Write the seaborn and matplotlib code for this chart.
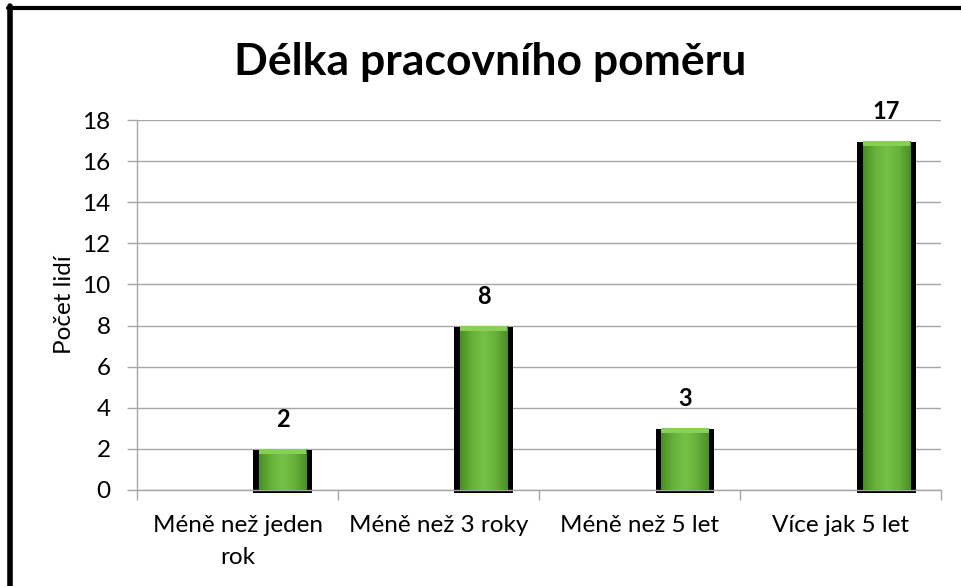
import matplotlib
matplotlib.use("Agg")
import matplotlib.pyplot as plt
import matplotlib.patches as mpatches
from matplotlib.colors import LinearSegmentedColormap
import seaborn as sns
import numpy as np

# data
categories = ["Méně než jeden\nrok", "Méně než 3 roky", "Méně než 5 let", "Více jak 5 let"]
values = [2, 8, 3, 17]
y_ticks = [0, 2, 4, 6, 8, 10, 12, 14, 16, 18]
title = "Délka pracovního poměru"
y_label = "Počet lidí"

sns.set_theme(style="white")
plt.rcParams['font.family'] = ['Lato', 'DejaVu Sans']

fig = plt.figure(figsize=(9.61, 5.86), dpi=100)
ax = fig.add_axes([0.1426, 0.164, 0.837, 0.631])

offset = 0.225
# black "shadow" bar behind, green bar in front
sns.barplot(x=categories, y=values, color="black", width=0.293, saturation=1,
            linewidth=0, ax=ax, zorder=2)
n_black = len(ax.patches)
sns.barplot(x=categories, y=values, color="#67b23a", width=0.234, saturation=1,
            linewidth=0, ax=ax, zorder=3)

green_cmap = LinearSegmentedColormap.from_list(
    "grn", ["#4a8f26", "#66b23a", "#76c246", "#66b23a", "#4a8f26"])
grad = np.linspace(0, 1, 64).reshape(1, -1)

for i, p in enumerate(ax.patches):
    p.set_x(p.get_x() + offset)
    if i < n_black:
        p.set_y(-0.15)
        p.set_height(p.get_height() + 0.1)
        p.set_clip_on(False)
    else:
        x0, w, h = p.get_x(), p.get_width(), p.get_height()
        im = ax.imshow(grad, cmap=green_cmap, extent=[x0, x0 + w, 0, h],
                       aspect="auto", zorder=3.5, interpolation="bicubic")
        im.set_clip_path(p)
        # light bevel on top
        ax.add_patch(mpatches.Rectangle((x0, h - 0.25), w, 0.25, color="#86d055",
                                        lw=0, zorder=3.6))
        ax.annotate(str(values[i - n_black]), (x0 + w / 2, h), xytext=(0, 13),
                    textcoords="offset points", ha="center", va="bottom",
                    fontsize=17, fontweight="bold", color="black")

ax.set_xlim(-0.5, 3.5)
ax.set_ylim(0, 18)
ax.set_yticks(y_ticks)
ax.yaxis.grid(True, color="#a6a6a6", linewidth=1)
ax.set_axisbelow(True)

ax.set_xticks(range(len(categories)))
ax.set_xticklabels(categories, fontsize=17.5, color="black", linespacing=1.65)
ax.set_xticks(np.arange(-0.5, len(categories), 1.0), minor=True)
ax.tick_params(axis="x", which="major", length=0, pad=18)
ax.tick_params(axis="x", which="minor", length=7, width=1, color="#a6a6a6", direction="out")
ax.tick_params(axis="y", which="major", length=7, width=1, color="#a6a6a6",
               direction="out", labelsize=17.5, labelcolor="black", pad=12)
ax.xaxis.set_tick_params(which="minor", bottom=True)
ax.yaxis.set_tick_params(left=True)

for side in ["top", "right"]:
    ax.spines[side].set_visible(False)
for side in ["left", "bottom"]:
    ax.spines[side].set_color("#a6a6a6")
    ax.spines[side].set_linewidth(1)

ax.set_xlabel("")
ax.set_ylabel(y_label, fontsize=17.5, color="black", labelpad=5)

fig.text(0.51, 0.895, title, ha="center", va="center", fontsize=32,
         fontweight="bold", color="black")

# outer chart border (left and top visible)
fig.add_artist(plt.Line2D([0.0109, 0.0109], [0, 0.99], transform=fig.transFigure,
                          color="black", linewidth=4))
fig.add_artist(plt.Line2D([0.0088, 1], [0.9855, 0.9855], transform=fig.transFigure,
                          color="black", linewidth=3))

fig.savefig("out.png", dpi=100, facecolor="white")
